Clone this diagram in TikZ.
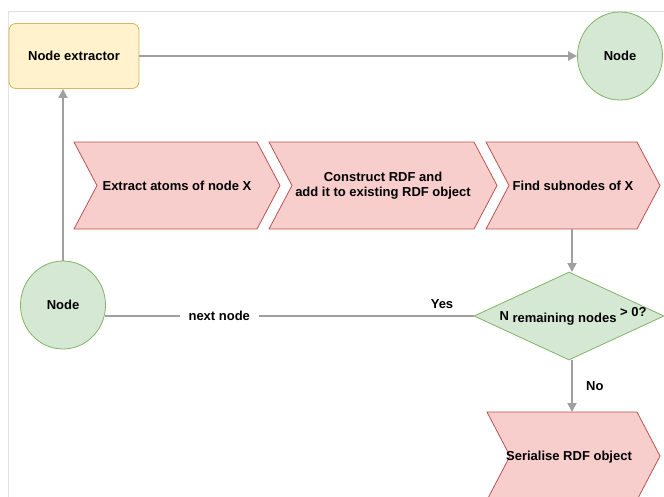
\documentclass[tikz,border=0pt]{standalone}
\usepackage{fontspec}
\setmainfont{Liberation Sans}
\usetikzlibrary{shapes.geometric,arrows.meta}
\definecolor{ylwfill}{HTML}{FFF2CC}
\definecolor{ylwline}{HTML}{D6B656}
\definecolor{grnfill}{HTML}{D5E8D4}
\definecolor{grnline}{HTML}{82B366}
\definecolor{redfill}{HTML}{F8CECC}
\definecolor{redline}{HTML}{B85450}
\definecolor{conn}{HTML}{A0A0A0}
\definecolor{frame}{HTML}{E2E2E2}
\tikzset{
  x=1pt, y=-1pt,
  lbl/.style={font=\bfseries\fontsize{13}{15.5}\selectfont, align=center, text=black},
  ynode/.style={draw=ylwline, fill=ylwfill, rounded corners=7pt, line width=0.8pt, minimum width=130pt, minimum height=65pt, lbl},
  gnode/.style={draw=grnline, fill=grnfill, ellipse, line width=0.8pt, minimum width=85pt, minimum height=88pt, lbl},
  dnode/.style={draw=grnline, fill=grnfill, diamond, aspect=2.17, inner sep=0pt, line width=0.8pt, minimum width=190pt, minimum height=88pt, lbl},
  chev/.style={draw=redline, fill=redfill, line width=0.8pt, line join=miter},
  arr/.style={draw=conn, line width=1.8pt, -{Triangle[length=9pt,width=9pt]}},
  ln/.style={draw=conn, line width=1.8pt},
}
\begin{document}
\begin{tikzpicture}
\useasboundingbox (0,0) rectangle (664,496);
\begin{scope}
\clip (0,0) rectangle (664,496);
% frame
\draw[frame, line width=0.8pt] (8,500) -- (8,11) -- (670,11);

% nodes
\node[ynode] (ext) at (74,56) {Node extractor};
\node[gnode] (ntop) at (620,56) {Node};
\node[gnode] (nleft) at (63,305) {Node};

% chevrons
\draw[chev] (74,142) -- (257,142) -- (280,185.5) -- (257,229) -- (74,229) -- (97,185.5) -- cycle;
\node[lbl] (c1) at (177,185.5) {Extract atoms of node X};
\draw[chev] (269,142) -- (474,142) -- (497,185.5) -- (474,229) -- (269,229) -- (292,185.5) -- cycle;
\node[lbl] (c2) at (383,185.5) {Construct RDF and\\add it to existing RDF object};
\draw[chev] (486,142) -- (637,142) -- (660,185.5) -- (637,229) -- (486,229) -- (509,185.5) -- cycle;
\node[lbl] (c3) at (573,185.5) {Find subnodes of X};
\coordinate (c3b) at (572,229);

\node[dnode] (dec) at (569,316) {};
\node[lbl, anchor=base] (dectxt) at (573,320) {N\raisebox{-0.35ex}{ remaining nodes }\raisebox{0.5ex}{> 0?}};

\draw[chev] (487,412) -- (637,412) -- (660,456) -- (637,500) -- (487,500) -- (510,456) -- cycle;
\node[lbl] (ser) at (569,457) {Serialise RDF object};
\coordinate (sert) at (572,412);

% connectors
\draw[arr] (ext.east) -- (ntop.west);
\draw[arr] (nleft.north) -- (nleft.north |- ext.south);
\draw[arr] (c3b) -- (572,272);
\coordinate (nlr) at (105,316);
\draw[ln] (dec.west) -- node[pos=0.69, fill=white, lbl, inner xsep=9pt, inner ysep=3pt] (nn) {next node} (nlr);
\node[lbl] (yes) at (442,304) {Yes};
\draw[arr] (572,360) -- node[right=10pt, lbl] (no) {No} (sert);
\end{scope}
\end{tikzpicture}
\end{document}
